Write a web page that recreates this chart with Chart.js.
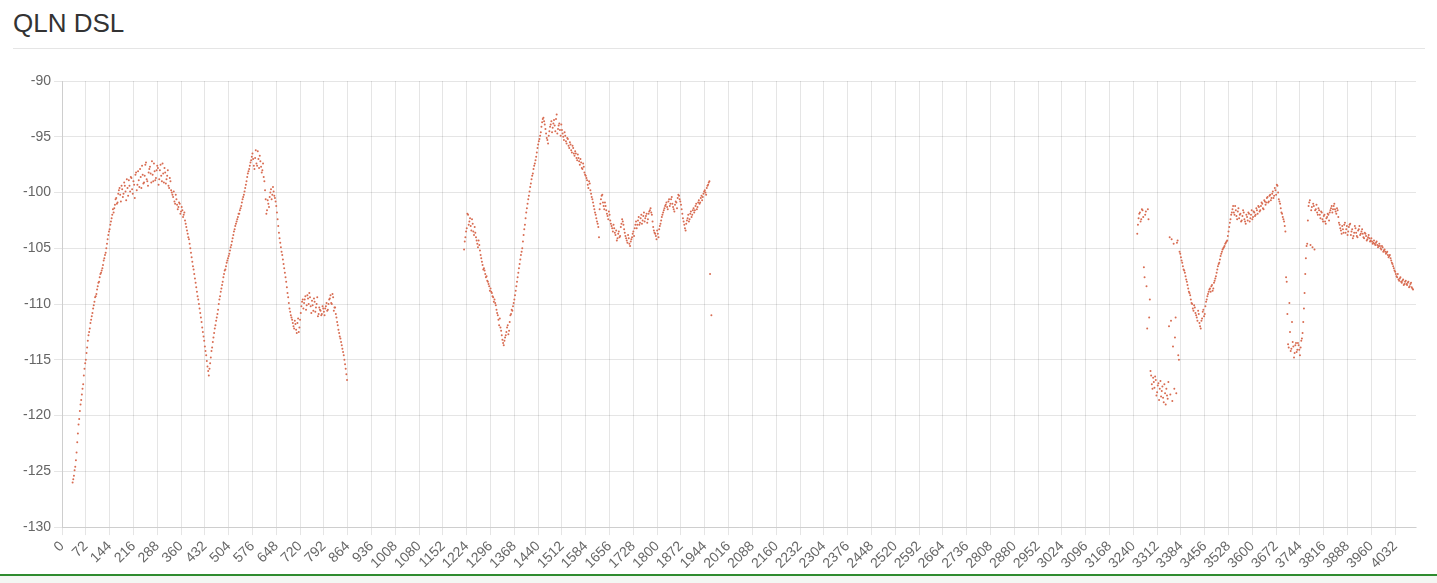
<!DOCTYPE html>
<html>
<head>
<meta charset="utf-8">
<script src="https://cdn.jsdelivr.net/npm/chart.js@4.4.1/dist/chart.umd.min.js"></script>
<style>
  html, body { margin: 0; padding: 0; background: #fff; }
  body { width: 1437px; height: 583px; position: relative; overflow: hidden; font-family: "Liberation Sans", Arial, sans-serif; }
  .title { position: absolute; left: 13px; top: 8px; font-size: 26px; color: #333; }
  .rule { position: absolute; left: 13px; top: 48px; width: 1412px; height: 1px; background: #e5e5e5; }
  .wrap { position: absolute; left: 0; top: 60px; width: 1437px; height: 515px; }
  .foot { position: absolute; left: 0; top: 574px; width: 1437px; height: 2px; background: #2e8b2e; }
  .foot2 { position: absolute; left: 0; top: 576px; width: 1437px; height: 7px; background: #f3f7f3; }
</style>
</head>
<body>
<div class="title">QLN DSL</div>
<div class="rule"></div>
<div class="wrap"><canvas id="canvas"></canvas></div>
<div class="foot"></div>
<div class="foot2"></div>
<script>
// tones 0..4095, a label every 72 tones
const toneCount = 4096;
const labelEvery = 72;
const step = 4;

// QLN values (dBm/Hz), one every 4 tones from each start tone
const seg1Start = 32;
const seg1 = [
  -126.0, -125.4, -124.6, -123.3, -121.6, -120.3, -119.0, -118.1, -117.2, -115.8,
  -115.0, -113.9, -112.8, -112.2, -111.4, -110.8, -110.1, -109.4, -109.1, -108.4,
  -108.0, -107.3, -107.0, -106.5, -105.9, -105.4, -104.6, -103.8, -103.3, -102.6,
  -102.0, -101.8, -101.1, -100.5, -100.9, -99.8, -100.2, -99.4, -100.4, -99.1,
  -99.9, -98.8, -100.3, -99.4, -98.6, -99.7, -99.0, -100.5, -98.2, -99.3,
  -98.9, -97.9, -99.6, -98.4, -99.1, -97.5, -98.8, -99.4, -97.9, -98.3,
  -97.2, -99.0, -98.1, -98.7, -97.6, -99.3, -98.0, -98.5, -97.4, -99.1,
  -98.2, -98.8, -98.0, -99.6, -99.0, -100.0, -100.4, -100.8, -100.2, -101.1,
  -101.3, -101.0, -101.7, -101.6, -102.0, -102.5, -103.1, -103.7, -104.2, -105.0,
  -105.8, -106.6, -107.3, -108.1, -108.9, -109.6, -110.4, -111.2, -112.1, -112.9,
  -113.8, -114.6, -115.6, -116.4, -115.3, -114.2, -113.4, -112.6, -111.9, -111.2,
  -110.5, -109.6, -108.9, -108.3, -107.6, -107.0, -106.6, -106.1, -105.7, -105.2,
  -104.7, -104.1, -103.5, -103.0, -102.6, -102.2, -101.9, -101.4, -100.9, -100.4,
  -99.9, -99.3, -98.6, -98.1, -97.6, -97.1, -96.5, -97.6, -96.9, -97.4,
  -96.3, -97.8, -97.2, -98.2, -97.4, -99.0, -100.6, -101.6, -101.0, -100.4,
  -99.7, -100.2, -99.9, -100.5, -101.2, -102.4, -103.6, -104.5, -105.3, -106.0,
  -106.8, -107.6, -108.5, -109.4, -110.4, -111.0, -111.4, -112.0, -111.5, -112.3,
  -111.7, -112.5, -111.4, -110.2, -109.6, -109.9, -109.3, -110.1, -109.5, -109.0,
  -110.2, -109.7, -110.6, -109.8, -110.3, -109.4, -110.9, -110.5, -111.0, -110.2,
  -110.7, -110.4, -109.9, -110.5, -109.6, -109.2, -110.0, -109.4, -110.3, -110.9,
  -111.6, -112.3, -112.9, -113.4, -114.0, -114.6, -115.4, -116.3
];
const seg1bStart = 34;
const seg1b = [
  -125.7, -124.9, -124.0, -122.4, -120.8, -119.6, -118.6, -117.6, -116.4, -115.3,
  -114.4, -113.3, -112.5, -111.7, -111.1, -110.4, -109.8, -109.3, -108.7, -108.1,
  -107.6, -107.2, -106.8, -106.1, -105.6, -105.0, -104.2, -103.5, -102.9, -102.3,
  -101.5, -101.4, -100.6, -101.0, -100.1, -99.6, -100.8, -99.7, -100.1, -99.4,
  -100.7, -99.6, -98.9, -99.9, -98.7, -100.1, -99.3, -98.4, -99.8, -98.1,
  -99.5, -98.6, -97.6, -99.2, -98.5, -97.3, -99.0, -98.2, -97.7, -99.1,
  -98.4, -97.4, -98.9, -98.0, -97.8, -98.8, -97.5, -99.0, -98.3, -97.8,
  -99.2, -98.5, -99.4, -98.7, -99.8, -100.2, -99.9, -101.0, -100.6, -101.5,
  -100.9, -101.9, -101.3, -102.2, -101.8, -102.8, -103.4, -104.0, -104.6, -105.4,
  -106.2, -106.9, -107.7, -108.5, -109.3, -110.0, -110.8, -111.6, -112.5, -113.3,
  -114.2, -115.1, -116.0, -115.8, -114.8, -113.9, -113.0, -112.2, -111.5, -110.9,
  -110.0, -109.3, -108.6, -108.0, -107.3, -106.9, -106.3, -105.9, -105.5, -104.9,
  -104.4, -103.8, -103.3, -102.8, -102.4, -101.9, -101.6, -101.2, -100.6, -100.2,
  -99.6, -99.0, -98.3, -97.9, -97.3, -96.8, -97.0, -97.9, -96.2, -97.6,
  -97.0, -96.7, -97.7, -98.0, -98.6, -99.8, -101.9, -100.7, -101.3, -100.0,
  -100.6, -99.5, -100.3, -100.8, -101.8, -103.0, -104.1, -104.9, -105.6, -106.4,
  -107.2, -108.0, -109.0, -109.9, -110.7, -111.2, -111.7, -112.2, -111.8, -112.6,
  -111.3, -112.1, -110.8, -109.8, -110.4, -109.6, -110.5, -109.2, -110.0, -109.4,
  -110.8, -110.1, -109.5, -110.7, -110.0, -111.1, -110.3, -110.6, -110.9, -110.4,
  -111.0, -110.2, -110.6, -110.0, -109.5, -109.9, -109.1, -110.6, -110.3, -111.2,
  -111.9, -112.6, -113.1, -113.7, -114.3, -115.0, -115.8, -116.8
];

const seg2Start = 1216;
const seg2 = [
  -105.1, -104.0, -103.2, -102.0, -102.6, -103.0, -102.4, -103.5, -103.1, -104.0,
  -104.6, -104.3, -105.2, -105.9, -106.5, -106.8, -107.3, -107.5, -108.0, -108.4,
  -108.6, -109.0, -109.4, -109.6, -110.1, -110.8, -111.4, -111.3, -112.4, -113.2,
  -113.7, -113.0, -112.5, -111.9, -112.4, -111.0, -110.5, -110.2, -109.6, -108.8,
  -108.0, -107.2, -106.4, -105.6, -105.0, -103.8, -102.9, -101.8, -101.0, -100.3,
  -99.5, -98.8, -98.3, -97.6, -97.1, -96.4, -95.7, -95.2, -94.6, -93.7,
  -93.3, -93.9, -94.7, -95.3, -94.9, -94.1, -93.6, -94.2, -93.5, -94.5,
  -93.0, -94.3, -93.8, -94.9, -94.4, -95.0, -94.6, -95.4, -95.1, -95.8,
  -95.5, -96.2, -95.8, -96.5, -96.3, -96.9, -96.6, -97.2, -97.0, -97.8,
  -97.4, -98.2, -98.5, -98.9, -99.6, -99.2, -100.1, -100.6, -101.2, -101.8,
  -102.3, -102.8, -104.0, -101.0, -100.3, -100.9, -101.5, -101.2, -101.9, -102.4,
  -102.0, -102.8, -103.2, -102.9, -103.6, -103.4, -104.1, -103.5, -103.9, -102.8,
  -102.6, -103.3, -103.9, -104.3, -103.8, -104.6, -104.4, -104.0, -103.5, -103.2,
  -102.6, -102.9, -102.2, -102.7, -102.0, -102.5, -101.8, -102.3, -101.9, -102.4,
  -101.7, -101.4, -102.0, -103.1, -103.6, -103.9, -103.4, -104.0, -103.0, -102.5,
  -102.0, -101.6, -101.2, -100.9, -101.5, -100.6, -101.0, -100.4, -101.3, -101.7,
  -100.8, -101.4, -100.2, -100.6, -101.1, -101.9, -102.6, -103.2, -102.8, -102.3,
  -102.6, -101.9, -102.2, -101.6, -101.8, -101.2, -101.5, -100.9, -101.0, -100.5,
  -100.7, -100.1, -99.8, -100.2, -99.4, -99.1, -107.3, -111.0
];
const seg2bStart = 1218;
const seg2b = [
  -104.4, -103.5, -101.9, -102.9, -102.3, -103.4, -102.8, -103.8, -103.6, -104.3,
  -104.9, -104.7, -105.6, -106.2, -106.9, -107.0, -107.6, -107.9, -108.2, -108.8,
  -108.9, -109.3, -109.8, -109.9, -110.5, -111.0, -111.9, -112.1, -112.8, -113.5,
  -113.3, -112.8, -112.1, -112.7, -111.6, -110.9, -110.6, -109.9, -109.2, -108.4,
  -107.6, -106.8, -106.0, -105.3, -104.4, -103.3, -102.3, -101.4, -100.6, -99.9,
  -99.2, -98.5, -97.9, -97.4, -96.8, -96.0, -95.4, -94.9, -94.1, -93.4,
  -93.6, -94.3, -95.1, -95.6, -94.5, -93.9, -94.6, -93.8, -94.0, -93.4,
  -94.7, -94.0, -94.4, -93.9, -94.7, -95.3, -94.9, -95.6, -95.2, -96.0,
  -95.7, -96.4, -96.0, -96.7, -96.5, -97.1, -96.9, -97.5, -97.3, -97.9,
  -97.7, -98.4, -98.7, -99.3, -99.0, -99.8, -100.4, -100.9, -101.5, -102.0,
  -102.6, -103.1, -101.5, -100.6, -100.2, -101.2, -100.9, -101.6, -102.1, -101.7,
  -102.5, -103.0, -103.5, -103.2, -103.8, -104.3, -103.7, -104.0, -103.1, -102.4,
  -102.9, -103.6, -104.1, -104.5, -104.1, -104.8, -104.2, -103.7, -103.9, -102.9,
  -103.2, -102.5, -102.9, -102.3, -102.8, -102.1, -102.6, -102.1, -102.7, -101.9,
  -101.6, -101.8, -102.6, -103.4, -103.7, -104.2, -103.7, -103.3, -102.8, -102.2,
  -101.8, -101.4, -101.1, -101.3, -100.8, -101.2, -100.6, -101.0, -101.5, -101.1,
  -100.9, -100.5, -100.3, -100.8, -101.5, -102.3, -102.9, -103.4, -102.5, -102.0,
  -102.4, -101.7, -102.0, -101.4, -101.6, -101.0, -101.3, -100.7, -100.9, -100.3,
  -100.4, -99.9, -100.0, -99.6, -99.3, -99.0
];

const seg3Start = 3252;
const seg3 = [
  -103.7, -102.3, -101.8, -102.4, -101.6, -106.7, -102.0, -108.4, -101.5, -111.2,
  -116.0, -117.2, -116.6, -117.5, -116.8, -117.9, -117.1, -117.6, -118.3, -117.4,
  -118.8, -118.0, -117.6, -118.5, -112.0, -118.1, -104.2, -113.8, -117.6, -111.2,
  -104.5, -114.6, -105.3, -105.8, -106.3, -106.9, -107.2, -107.8, -108.3, -108.9,
  -109.2, -109.9, -110.4, -110.1, -110.8, -111.2, -110.6, -111.7, -112.2, -111.3,
  -110.5, -110.9, -109.8, -109.3, -108.9, -108.6, -108.4, -108.8, -108.1, -107.7,
  -107.2, -106.6, -106.3, -105.7, -105.3, -105.0, -104.8, -104.5, -104.3, -103.5,
  -102.7, -102.0, -101.5, -101.8, -101.2, -102.1, -101.7, -102.3, -101.9, -102.5,
  -101.6, -102.4, -102.8, -102.2, -101.8, -102.6, -102.0, -102.4, -101.7, -102.1,
  -101.4, -101.9, -101.3, -101.6, -100.9, -101.4, -100.7, -101.1, -100.5, -100.9,
  -100.3, -100.7, -100.1, -100.5, -99.6, -100.2, -99.4, -100.6, -101.0, -101.8,
  -102.2, -102.6, -103.5, -108.0, -113.6, -109.9, -114.2, -111.6, -113.8, -114.4,
  -113.5, -114.1, -113.7, -114.6, -113.3, -112.6, -110.4, -107.3, -104.8, -102.5,
  -100.9, -104.7, -101.3, -101.0, -105.1, -101.5, -101.8, -101.4, -102.0, -101.7,
  -102.4, -102.1, -102.6, -102.3, -101.9, -102.5, -101.6, -101.2, -101.5, -101.0,
  -101.7, -101.4, -102.2, -102.9, -103.4, -103.0, -103.6, -102.7, -103.3, -103.8,
  -103.1, -102.8, -103.5, -104.1, -103.6, -103.2, -103.9, -103.4, -103.0, -103.7,
  -103.3, -104.0, -103.6, -103.9, -104.2, -103.8, -104.4, -104.1, -104.6, -104.3,
  -104.7, -104.4, -104.9, -104.6, -105.0, -104.8, -105.3, -105.1, -105.5, -105.3,
  -105.8, -105.6, -106.1, -106.4, -106.8, -107.1, -107.5, -107.3, -107.9, -107.6,
  -108.1, -107.8, -108.2, -107.9, -108.3, -108.0, -108.4, -108.1, -108.6
];
const seg3bStart = 3254;
const seg3b = [
  -102.9, -101.9, -102.6, -101.5, -102.2, -107.6, -101.7, -112.2, -102.4, -109.6,
  -116.4, -117.6, -117.0, -116.5, -118.2, -117.3, -118.6, -116.9, -117.8, -118.4,
  -117.2, -119.0, -118.2, -117.0, -104.0, -111.5, -118.7, -104.6, -113.0, -118.0,
  -104.3, -115.0, -105.5, -106.1, -106.6, -107.0, -107.5, -108.0, -108.6, -109.0,
  -109.6, -110.0, -110.6, -110.3, -111.0, -111.5, -110.9, -112.0, -111.5, -110.7,
  -111.1, -110.2, -109.6, -109.1, -108.7, -108.9, -108.3, -108.6, -107.9, -107.5,
  -106.9, -106.4, -106.0, -105.5, -105.1, -104.9, -104.6, -104.4, -103.9, -103.1,
  -102.4, -101.8, -101.2, -102.0, -101.6, -102.4, -101.4, -102.0, -102.6, -102.1,
  -101.8, -102.6, -102.0, -102.5, -101.9, -102.3, -101.6, -102.2, -101.8, -102.0,
  -101.6, -101.2, -101.7, -101.2, -101.0, -101.5, -100.8, -100.9, -100.4, -100.8,
  -100.2, -100.5, -99.9, -100.3, -99.8, -99.3, -100.0, -100.8, -101.4, -101.9,
  -102.4, -103.0, -107.6, -110.9, -113.9, -112.5, -114.0, -113.4, -114.8, -113.7,
  -114.3, -113.5, -114.1, -113.9, -113.1, -111.6, -109.0, -105.9, -104.6, -101.2,
  -100.7, -101.6, -104.9, -101.2, -101.6, -101.1, -102.0, -101.6, -102.3, -101.8,
  -102.6, -102.0, -102.8, -102.2, -102.0, -101.8, -101.4, -101.8, -101.2, -101.5,
  -101.9, -101.6, -102.7, -103.2, -103.7, -103.3, -102.9, -103.6, -103.0, -103.5,
  -102.9, -103.8, -103.3, -103.9, -103.0, -103.6, -104.0, -103.3, -103.8, -103.5,
  -103.7, -104.1, -103.7, -104.3, -104.0, -104.1, -104.3, -104.4, -104.5, -104.6,
  -104.5, -104.7, -104.8, -104.8, -105.1, -104.9, -105.2, -105.3, -105.4, -105.6,
  -105.7, -105.9, -106.3, -106.6, -107.0, -107.3, -107.6, -107.8, -107.7, -108.0,
  -107.9, -108.3, -108.0, -108.2, -108.1, -108.5, -108.2, -108.5, -108.7
];

const yMin = -130;
const yMax = -90;
const yStep = 5;

const labels = Array.from({ length: toneCount }, (_, i) => String(i));
const qln = new Array(toneCount).fill(null);
[[seg1Start, seg1], [seg1bStart, seg1b], [seg2Start, seg2], [seg2bStart, seg2b],
 [seg3Start, seg3], [seg3bStart, seg3b]].forEach(function (s) {
  s[1].forEach(function (v, i) { qln[s[0] + i * step] = v; });
});

Chart.defaults.font.family = "'Liberation Sans', Arial, sans-serif";
Chart.defaults.font.size = 14;
Chart.defaults.color = '#666';

const ctx = document.getElementById('canvas').getContext('2d');
const myChart = new Chart(ctx, {
  type: 'line',
  data: {
    labels: labels,
    datasets: [{
      label: 'QLN',
      data: qln,
      showLine: false,
      pointRadius: 1,
      pointBorderWidth: 0,
      pointBackgroundColor: '#d86c52',
      pointBorderColor: '#d86c52',
      pointHoverRadius: 2
    }]
  },
  options: {
    responsive: true,
    maintainAspectRatio: false,
    animation: false,
    layout: { padding: { left: 20, right: 21, top: 21, bottom: 0 } },
    plugins: { legend: { display: false }, tooltip: { enabled: false } },
    scales: {
      x: {
        grid: { color: 'rgba(0,0,0,0.1)' },
        ticks: {
          autoSkip: false,
          maxRotation: 45,
          minRotation: 45,
          color: '#666',
          callback: function (val, index) {
            return index % labelEvery === 0 ? this.getLabelForValue(val) : null;
          }
        }
      },
      y: {
        min: yMin,
        max: yMax,
        grid: { color: 'rgba(0,0,0,0.1)' },
        ticks: { stepSize: yStep, color: '#666' }
      }
    }
  }
});
</script>
</body>
</html>
